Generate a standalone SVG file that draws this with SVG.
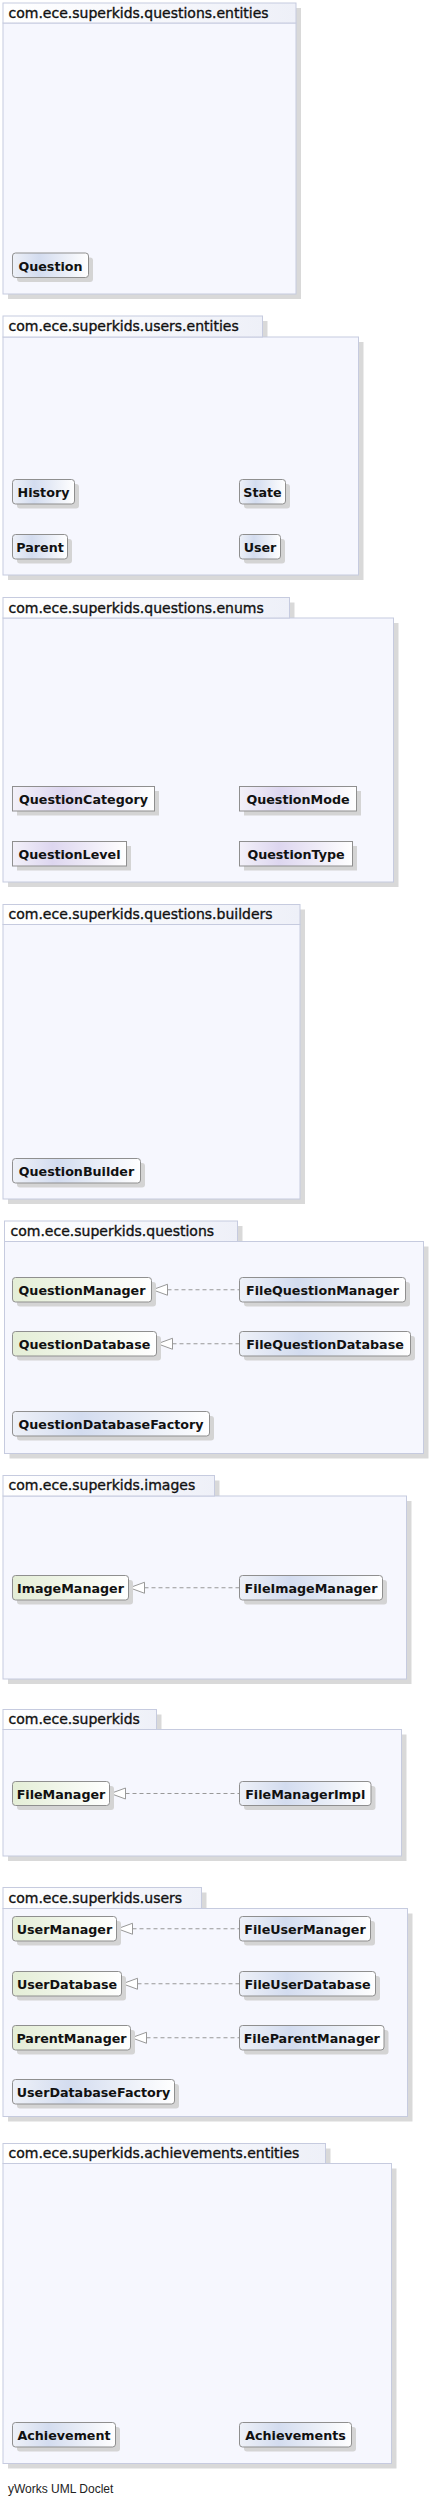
<svg xmlns="http://www.w3.org/2000/svg" width="431" height="2506" viewBox="0 0 431 2506">
<style>
.pkgsh{fill:#d9d9d9}
.tab{fill:url(#gTab);stroke:#c6cbdf;stroke-width:1}
.body{fill:#f6f7fe;stroke:#c6cbdf;stroke-width:1}
.ptitle{font-family:"DejaVu Sans",sans-serif;font-size:14px;fill:#111;stroke:#111;stroke-width:0.35}
.nsh{fill:#d4d4d4}
.cls{fill:url(#gCls);stroke:#8f8f8f;stroke-width:1}
.ifc{fill:url(#gIfc);stroke:#8f8f8f;stroke-width:1}
.enm{fill:url(#gEnm);stroke:#8f8f8f;stroke-width:1}
.lbl{font-family:"DejaVu Sans",sans-serif;font-weight:bold;font-size:12.7px;fill:#111;text-anchor:middle}
.dep{stroke:#999;stroke-width:1;stroke-dasharray:4,3;fill:none}
.tri{fill:#fff;stroke:#999;stroke-width:1}
.foot{font-family:"Liberation Sans",Arial,sans-serif;font-size:12px;fill:#222}
</style>
<defs>
<linearGradient id="gTab" x1="0" y1="0" x2="1" y2="0"><stop offset="0" stop-color="#ffffff"/><stop offset="1" stop-color="#eef0f8"/></linearGradient>
<linearGradient id="gCls" x1="0" y1="0" x2="1" y2="0"><stop offset="0" stop-color="#eef1f8"/><stop offset="0.35" stop-color="#d3dcef"/><stop offset="1" stop-color="#ffffff"/></linearGradient>
<linearGradient id="gIfc" x1="0" y1="0" x2="1" y2="0"><stop offset="0" stop-color="#e4eed6"/><stop offset="0.4" stop-color="#eef4e6"/><stop offset="1" stop-color="#ffffff"/></linearGradient>
<linearGradient id="gEnm" x1="0" y1="0" x2="1" y2="0"><stop offset="0" stop-color="#f3f1f9"/><stop offset="0.35" stop-color="#ddd6ef"/><stop offset="1" stop-color="#ffffff"/></linearGradient>
</defs>

<g id="pkg-questions-entities">
<rect class="pkgsh" x="8" y="8" width="293" height="291"/>
<rect class="body" x="3" y="23" width="293" height="271"/>
<rect class="tab" x="3" y="3" width="293" height="20"/>
<text class="ptitle" x="8.5" y="17.5">com.ece.superkids.questions.entities</text>
</g>
<g id="pkg-users-entities">
<rect class="pkgsh" x="8" y="321" width="259.5" height="21"/>
<rect class="pkgsh" x="8" y="342" width="355.5" height="238"/>
<rect class="body" x="3" y="337" width="355.5" height="238"/>
<rect class="tab" x="3" y="316" width="259.5" height="21"/>
<text class="ptitle" x="8.5" y="331">com.ece.superkids.users.entities</text>
</g>
<g id="pkg-questions-enums">
<rect class="pkgsh" x="8" y="602.5" width="286.5" height="20.5"/>
<rect class="pkgsh" x="8" y="623" width="390.5" height="264"/>
<rect class="body" x="3" y="618" width="390.5" height="264"/>
<rect class="tab" x="3" y="597.5" width="286.5" height="20.5"/>
<text class="ptitle" x="8.5" y="612.5">com.ece.superkids.questions.enums</text>
</g>
<g id="pkg-questions-builders">
<rect class="pkgsh" x="8" y="909.5" width="297" height="294.5"/>
<rect class="body" x="3" y="924.5" width="297" height="274.5"/>
<rect class="tab" x="3" y="904.5" width="297" height="20"/>
<text class="ptitle" x="8.5" y="919">com.ece.superkids.questions.builders</text>
</g>
<g id="pkg-questions">
<rect class="pkgsh" x="9.5" y="1226" width="233" height="20.5"/>
<rect class="pkgsh" x="9.5" y="1246.5" width="419" height="212"/>
<rect class="body" x="4.5" y="1241.5" width="419" height="212"/>
<rect class="tab" x="4.5" y="1221" width="233" height="20.5"/>
<text class="ptitle" x="10.5" y="1235.5">com.ece.superkids.questions</text>
</g>
<g id="pkg-images">
<rect class="pkgsh" x="8" y="1480.5" width="211.5" height="20.5"/>
<rect class="pkgsh" x="8" y="1501" width="403.5" height="183"/>
<rect class="body" x="3" y="1496" width="403.5" height="183"/>
<rect class="tab" x="3" y="1475.5" width="211.5" height="20.5"/>
<text class="ptitle" x="8.5" y="1490">com.ece.superkids.images</text>
</g>
<g id="pkg-superkids">
<rect class="pkgsh" x="8" y="1714.5" width="153.5" height="20"/>
<rect class="pkgsh" x="8" y="1734.5" width="398.5" height="126.5"/>
<rect class="body" x="3" y="1729.5" width="398.5" height="126.5"/>
<rect class="tab" x="3" y="1709.5" width="153.5" height="20"/>
<text class="ptitle" x="8.5" y="1724">com.ece.superkids</text>
</g>
<g id="pkg-users">
<rect class="pkgsh" x="8" y="1892.5" width="198.5" height="21"/>
<rect class="pkgsh" x="8" y="1913.5" width="404.5" height="208"/>
<rect class="body" x="3" y="1908.5" width="404.5" height="208"/>
<rect class="tab" x="3" y="1887.5" width="198.5" height="21"/>
<text class="ptitle" x="8.5" y="1902.5">com.ece.superkids.users</text>
</g>
<g id="pkg-achievements-entities">
<rect class="pkgsh" x="8" y="2148.5" width="322.5" height="20"/>
<rect class="pkgsh" x="8" y="2168.5" width="388.5" height="300"/>
<rect class="body" x="3" y="2163.5" width="388.5" height="300"/>
<rect class="tab" x="3" y="2143.5" width="322.5" height="20"/>
<text class="ptitle" x="8.5" y="2158">com.ece.superkids.achievements.entities</text>
</g>

<g id="connectors">
<line class="dep" x1="167.5" y1="1289.75" x2="239.5" y2="1289.75"/>
<polygon class="tri" points="152.5,1289.75 167.5,1284.25 167.5,1295.25"/>
<line class="dep" x1="172.5" y1="1343.75" x2="239.5" y2="1343.75"/>
<polygon class="tri" points="157.5,1343.75 172.5,1338.25 172.5,1349.25"/>
<line class="dep" x1="144.5" y1="1587.75" x2="239.5" y2="1587.75"/>
<polygon class="tri" points="129.5,1587.75 144.5,1582.25 144.5,1593.25"/>
<line class="dep" x1="125.5" y1="1793.5" x2="239.5" y2="1793.5"/>
<polygon class="tri" points="110.5,1793.5 125.5,1788 125.5,1799"/>
<line class="dep" x1="132.5" y1="1928.75" x2="239.5" y2="1928.75"/>
<polygon class="tri" points="117.5,1928.75 132.5,1923.25 132.5,1934.25"/>
<line class="dep" x1="137.5" y1="1983.75" x2="239.5" y2="1983.75"/>
<polygon class="tri" points="122.5,1983.75 137.5,1978.25 137.5,1989.25"/>
<line class="dep" x1="146.5" y1="2037.75" x2="239.5" y2="2037.75"/>
<polygon class="tri" points="131.5,2037.75 146.5,2032.25 146.5,2043.25"/>
</g>

<g id="Question"><rect class="nsh" x="17" y="257.5" width="76" height="24.5" rx="3"/><rect class="cls" x="12.5" y="253" width="76" height="24.5" rx="3"/><text class="lbl" x="50.5" y="270.5">Question</text></g>
<g id="History"><rect class="nsh" x="17" y="484" width="62" height="24.5" rx="3"/><rect class="cls" x="12.5" y="479.5" width="62" height="24.5" rx="3"/><text class="lbl" x="43.5" y="497">History</text></g>
<g id="State"><rect class="nsh" x="244" y="484" width="46" height="24.5" rx="3"/><rect class="cls" x="239.5" y="479.5" width="46" height="24.5" rx="3"/><text class="lbl" x="262.5" y="497">State</text></g>
<g id="Parent"><rect class="nsh" x="17" y="539" width="55" height="24.5" rx="3"/><rect class="cls" x="12.5" y="534.5" width="55" height="24.5" rx="3"/><text class="lbl" x="40" y="552">Parent</text></g>
<g id="User"><rect class="nsh" x="244" y="539" width="41" height="24.5" rx="3"/><rect class="cls" x="239.5" y="534.5" width="41" height="24.5" rx="3"/><text class="lbl" x="260" y="552">User</text></g>

<g id="QuestionCategory"><rect class="nsh" x="17" y="791" width="142" height="24.5"/><rect class="enm" x="12.5" y="786.5" width="142" height="24.5"/><text class="lbl" x="83.5" y="804">QuestionCategory</text></g>
<g id="QuestionMode"><rect class="nsh" x="244" y="791" width="117" height="24.5"/><rect class="enm" x="239.5" y="786.5" width="117" height="24.5"/><text class="lbl" x="298" y="804">QuestionMode</text></g>
<g id="QuestionLevel"><rect class="nsh" x="17" y="846" width="114" height="24.5"/><rect class="enm" x="12.5" y="841.5" width="114" height="24.5"/><text class="lbl" x="69.5" y="859">QuestionLevel</text></g>
<g id="QuestionType"><rect class="nsh" x="244" y="846" width="113" height="24.5"/><rect class="enm" x="239.5" y="841.5" width="113" height="24.5"/><text class="lbl" x="296" y="859">QuestionType</text></g>

<g id="QuestionBuilder"><rect class="nsh" x="17" y="1163" width="128" height="24.5" rx="3"/><rect class="cls" x="12.5" y="1158.5" width="128" height="24.5" rx="3"/><text class="lbl" x="76.5" y="1176">QuestionBuilder</text></g>

<g id="QuestionManager"><rect class="nsh" x="17" y="1282" width="139" height="24.5" rx="3"/><rect class="ifc" x="12.5" y="1277.5" width="139" height="24.5" rx="3"/><text class="lbl" x="82" y="1295">QuestionManager</text></g>
<g id="FileQuestionManager"><rect class="nsh" x="244" y="1282" width="166" height="24.5" rx="3"/><rect class="cls" x="239.5" y="1277.5" width="166" height="24.5" rx="3"/><text class="lbl" x="322.5" y="1295">FileQuestionManager</text></g>
<g id="QuestionDatabase"><rect class="nsh" x="17" y="1336" width="144" height="24.5" rx="3"/><rect class="ifc" x="12.5" y="1331.5" width="144" height="24.5" rx="3"/><text class="lbl" x="84.5" y="1349">QuestionDatabase</text></g>
<g id="FileQuestionDatabase"><rect class="nsh" x="244" y="1336" width="171" height="24.5" rx="3"/><rect class="cls" x="239.5" y="1331.5" width="171" height="24.5" rx="3"/><text class="lbl" x="325" y="1349">FileQuestionDatabase</text></g>
<g id="QuestionDatabaseFactory"><rect class="nsh" x="17" y="1416" width="197" height="24.5" rx="3"/><rect class="cls" x="12.5" y="1411.5" width="197" height="24.5" rx="3"/><text class="lbl" x="111" y="1429">QuestionDatabaseFactory</text></g>

<g id="ImageManager"><rect class="nsh" x="17" y="1580" width="116" height="24.5" rx="3"/><rect class="ifc" x="12.5" y="1575.5" width="116" height="24.5" rx="3"/><text class="lbl" x="70.5" y="1593">ImageManager</text></g>
<g id="FileImageManager"><rect class="nsh" x="244" y="1580" width="143" height="24.5" rx="3"/><rect class="cls" x="239.5" y="1575.5" width="143" height="24.5" rx="3"/><text class="lbl" x="311" y="1593">FileImageManager</text></g>

<g id="FileManager"><rect class="nsh" x="17" y="1786" width="97" height="24" rx="3"/><rect class="ifc" x="12.5" y="1781.5" width="97" height="24" rx="3"/><text class="lbl" x="61" y="1798.5">FileManager</text></g>
<g id="FileManagerImpl"><rect class="nsh" x="244" y="1786" width="131.5" height="24" rx="3"/><rect class="cls" x="239.5" y="1781.5" width="131.5" height="24" rx="3"/><text class="lbl" x="305.25" y="1798.5">FileManagerImpl</text></g>

<g id="UserManager"><rect class="nsh" x="17" y="1921" width="104" height="24.5" rx="3"/><rect class="ifc" x="12.5" y="1916.5" width="104" height="24.5" rx="3"/><text class="lbl" x="64.5" y="1934">UserManager</text></g>
<g id="FileUserManager"><rect class="nsh" x="244" y="1921" width="131" height="24.5" rx="3"/><rect class="cls" x="239.5" y="1916.5" width="131" height="24.5" rx="3"/><text class="lbl" x="305" y="1934">FileUserManager</text></g>
<g id="UserDatabase"><rect class="nsh" x="17" y="1976" width="109" height="24.5" rx="3"/><rect class="ifc" x="12.5" y="1971.5" width="109" height="24.5" rx="3"/><text class="lbl" x="67" y="1989">UserDatabase</text></g>
<g id="FileUserDatabase"><rect class="nsh" x="244" y="1976" width="136" height="24.5" rx="3"/><rect class="cls" x="239.5" y="1971.5" width="136" height="24.5" rx="3"/><text class="lbl" x="307.5" y="1989">FileUserDatabase</text></g>
<g id="ParentManager"><rect class="nsh" x="17" y="2030" width="118" height="24.5" rx="3"/><rect class="ifc" x="12.5" y="2025.5" width="118" height="24.5" rx="3"/><text class="lbl" x="71.5" y="2043">ParentManager</text></g>
<g id="FileParentManager"><rect class="nsh" x="244" y="2030" width="144.5" height="24.5" rx="3"/><rect class="cls" x="239.5" y="2025.5" width="144.5" height="24.5" rx="3"/><text class="lbl" x="311.75" y="2043">FileParentManager</text></g>
<g id="UserDatabaseFactory"><rect class="nsh" x="17" y="2084" width="162" height="24.5" rx="3"/><rect class="cls" x="12.5" y="2079.5" width="162" height="24.5" rx="3"/><text class="lbl" x="93.5" y="2097">UserDatabaseFactory</text></g>

<g id="Achievement"><rect class="nsh" x="17" y="2427" width="103" height="24.5" rx="3"/><rect class="cls" x="12.5" y="2422.5" width="103" height="24.5" rx="3"/><text class="lbl" x="64" y="2440">Achievement</text></g>
<g id="Achievements"><rect class="nsh" x="244" y="2427" width="112" height="24.5" rx="3"/><rect class="cls" x="239.5" y="2422.5" width="112" height="24.5" rx="3"/><text class="lbl" x="295.5" y="2440">Achievements</text></g>

<text class="foot" x="8" y="2493">yWorks UML Doclet</text>
</svg>
